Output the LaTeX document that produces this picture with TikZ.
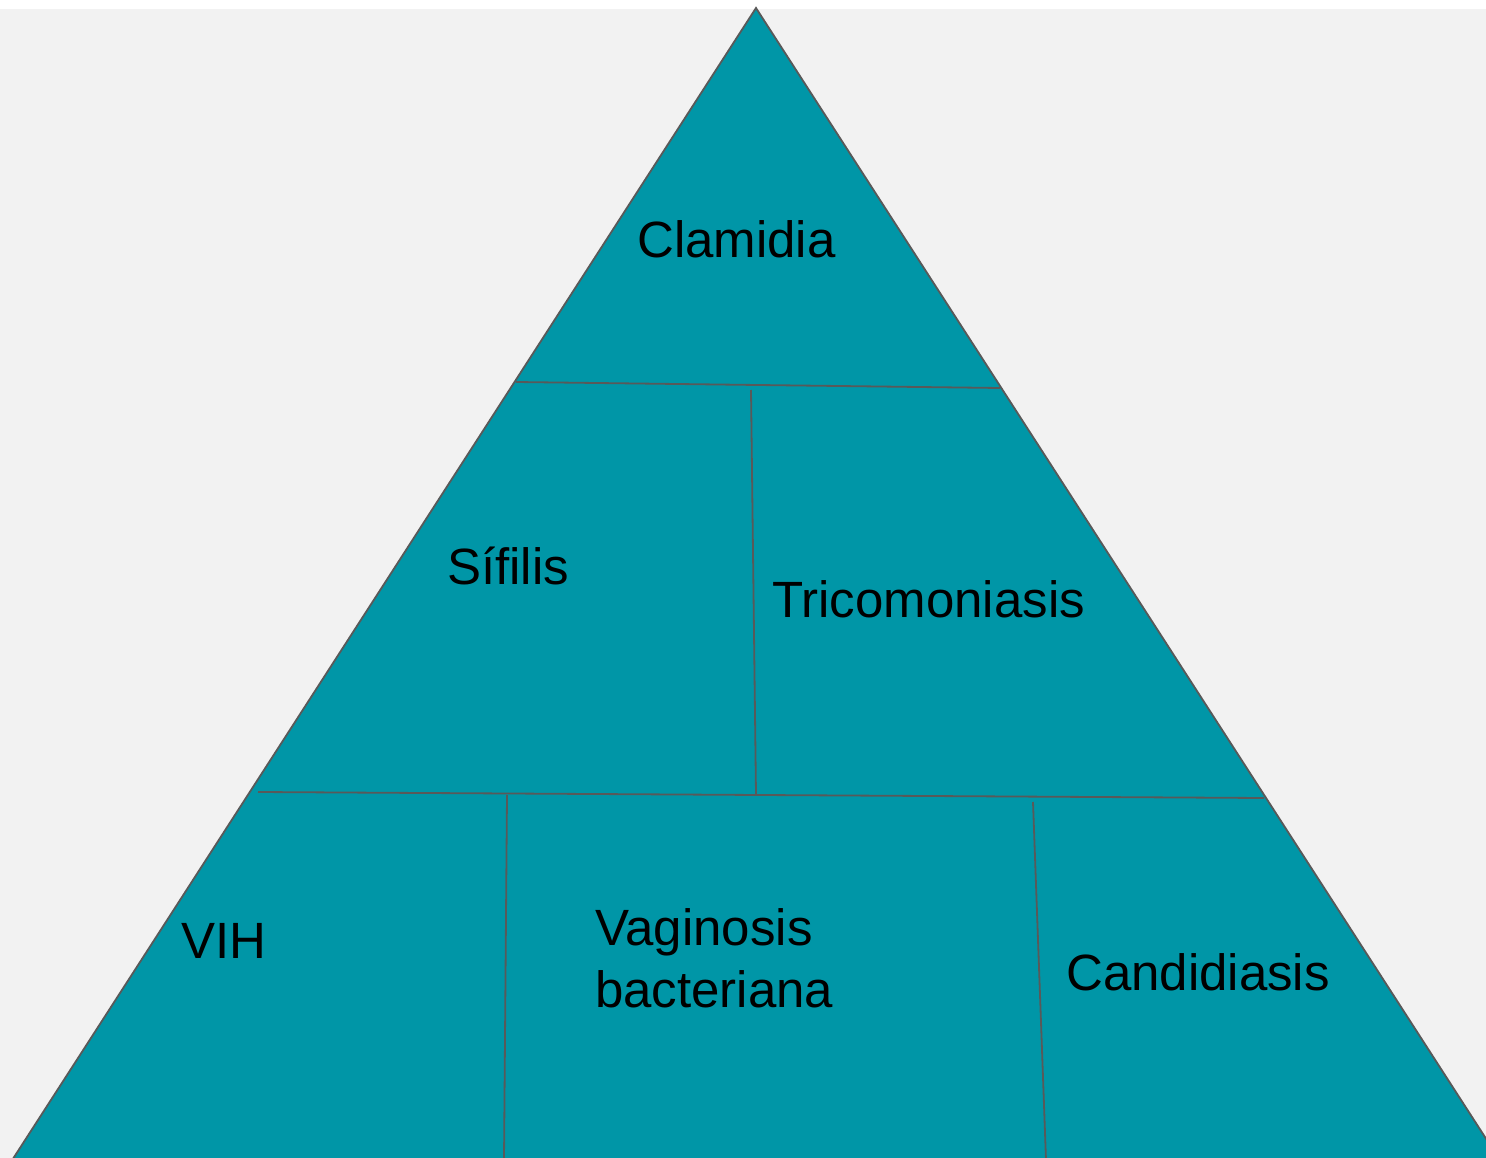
\documentclass[tikz,border=0pt]{standalone}
\usepackage{fontspec}
\setmainfont{Liberation Sans}
\definecolor{bggray}{RGB}{242,242,242}
\definecolor{tealfill}{RGB}{0,150,167}
\definecolor{edgegray}{RGB}{89,89,89}
\begin{document}
\begin{tikzpicture}[x=1pt,y=-1pt,
  lbl/.style={anchor=base west,inner sep=0pt,font=\fontsize{51}{62}\selectfont,text=black,align=left},
  divider/.style={draw=edgegray,line width=1.8pt}]
\useasboundingbox (0,0) rectangle (1486,1158);
\fill[white] (0,0) rectangle (1486,9);
\fill[bggray] (0,9) rectangle (1486,1158);
\begin{scope}
\clip (0,0) rectangle (1486,1158);
\coordinate (apex) at (756,8);
\coordinate (bl) at (-2,1182);
\coordinate (br) at (1514,1182);
\filldraw[fill=tealfill,draw=edgegray,line width=1.8pt,line join=miter] (apex) -- (br) -- (bl) -- cycle;
\coordinate (d1a) at (516,382);
\coordinate (d1b) at (1000,388);
\coordinate (v1a) at (751,390);
\coordinate (v1b) at (756,795);
\coordinate (d2a) at (258,792);
\coordinate (d2b) at (1264,798);
\coordinate (v2a) at (507,795);
\coordinate (v2b) at (504,1160);
\coordinate (v3a) at (1033,802);
\coordinate (v3b) at (1046,1160);
\draw[divider] (d1a) -- (d1b);
\draw[divider] (v1a) -- (v1b);
\draw[divider] (d2a) -- (d2b);
\draw[divider] (v2a) -- (v2b);
\draw[divider] (v3a) -- (v3b);
\end{scope}
\node[lbl] (clamidia) at (637,258) {Clamidia};
\node[lbl] (sifilis) at (447,584) {Sífilis};
\node[lbl] (trico) at (772,617) {Tricomoniasis};
\node[lbl] (vih) at (181,958) {VIH};
\node[lbl] (vagi) at (595,1007) {Vaginosis\\bacteriana};
\node[lbl] (candi) at (1066,990) {Candidiasis};
\end{tikzpicture}
\end{document}
